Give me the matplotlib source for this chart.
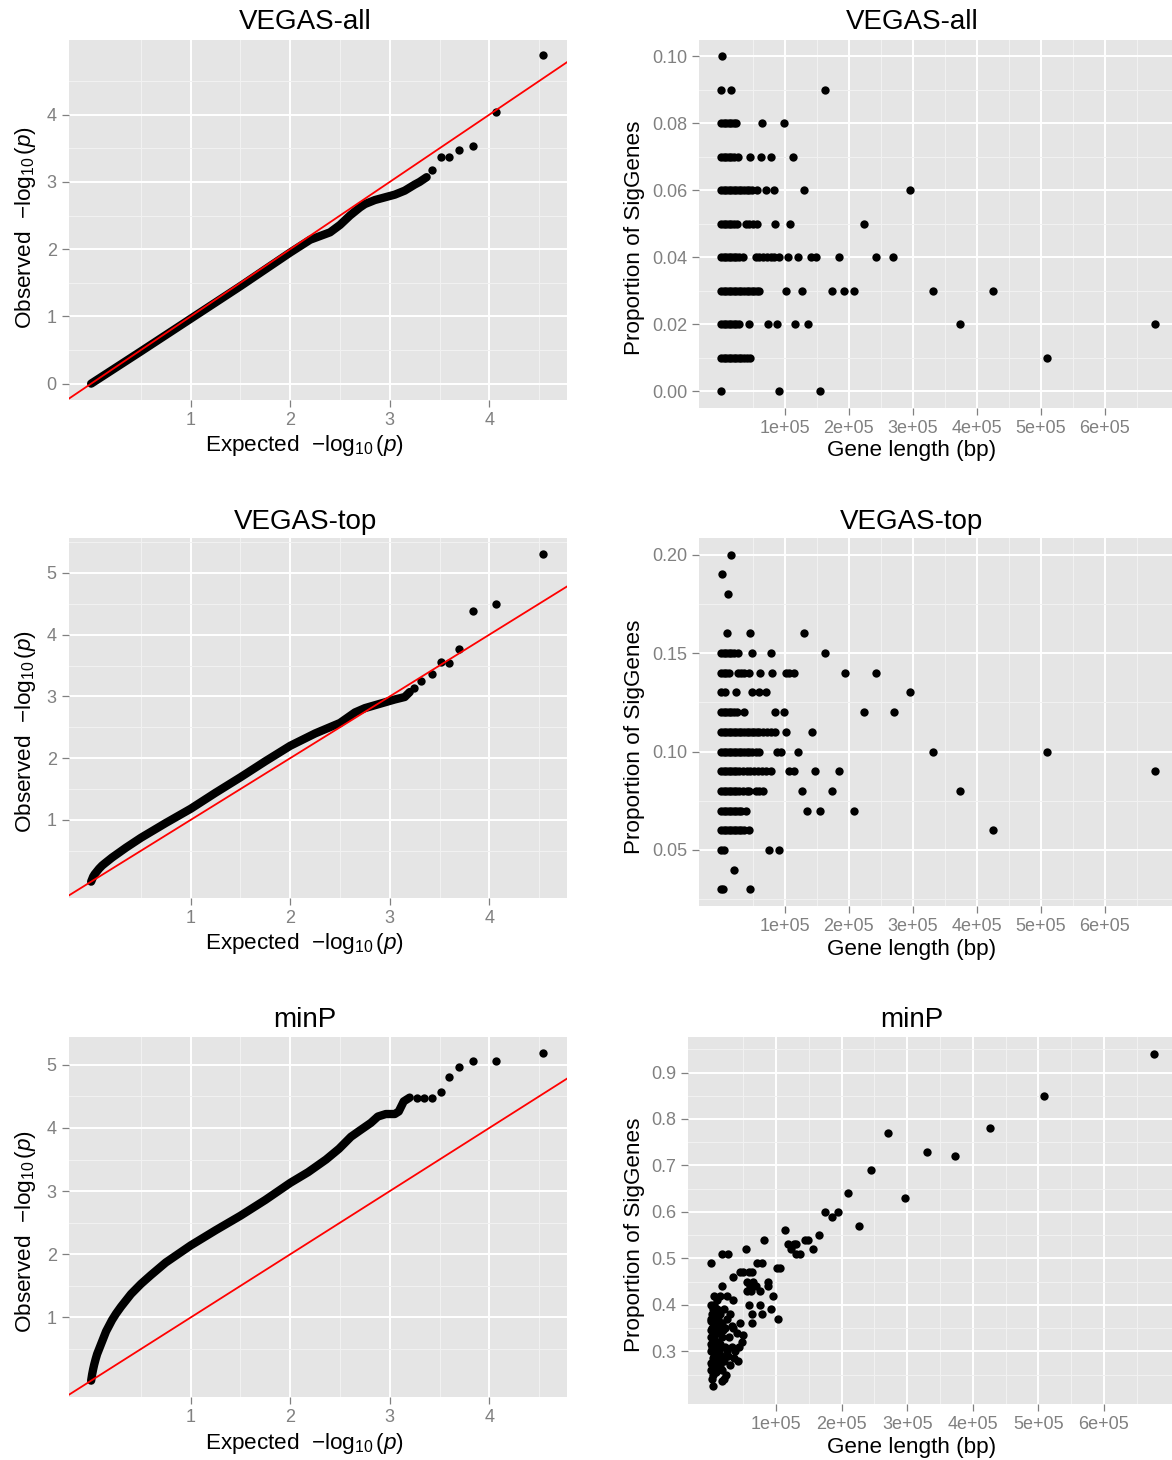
import matplotlib
matplotlib.use('Agg')
import matplotlib.pyplot as plt
import numpy as np
from matplotlib import ticker

plt.rcParams['font.family'] = ['Liberation Sans', 'DejaVu Sans']
plt.rcParams['mathtext.fontset'] = 'custom'
plt.rcParams['mathtext.rm'] = 'Liberation Sans'
plt.rcParams['mathtext.it'] = 'Liberation Sans:italic'
plt.rcParams['mathtext.bf'] = 'Liberation Sans:bold'

W, H = 1172, 1460
BG = '#E5E5E5'
MINOR = '#F2F2F2'
GREY = '#808080'

# ---- QQ data: dense part of each curve read as a path, separate tail points
all_curve_exp = [0.0, 0.25, 0.5, 1.0, 1.5, 2.0, 2.2, 2.4, 2.5, 2.6, 2.7, 2.75, 2.85, 2.95, 3.05, 3.15, 3.25, 3.3, 3.37]
all_curve_obs = [0.0, 0.24, 0.48, 0.965, 1.45, 1.95, 2.14, 2.25, 2.36, 2.5, 2.62, 2.67, 2.73, 2.77, 2.81, 2.87, 2.96, 3.0, 3.07]
all_tail_exp = [3.42, 3.51, 3.59, 3.70, 3.84, 4.07, 4.54]
all_tail_obs = [3.17, 3.37, 3.37, 3.47, 3.53, 4.04, 4.88]

top_curve_exp = [0.0, 0.01, 0.02, 0.035, 0.05, 0.08, 0.11, 0.14, 0.21, 0.28, 0.35, 0.5, 0.75, 1.0, 1.25, 1.5, 1.75, 2.0, 2.25, 2.5, 2.65, 2.75, 2.9, 3.05, 3.15, 3.2]
top_curve_obs = [0.0, 0.04, 0.08, 0.12, 0.15, 0.21, 0.26, 0.30, 0.39, 0.47, 0.55, 0.71, 0.95, 1.18, 1.44, 1.69, 1.95, 2.20, 2.40, 2.57, 2.74, 2.81, 2.88, 2.95, 2.99, 3.07]
top_tail_exp = [3.24, 3.31, 3.42, 3.51, 3.59, 3.70, 3.84, 4.07, 4.54]
top_tail_obs = [3.13, 3.25, 3.36, 3.56, 3.54, 3.76, 4.39, 4.49, 5.30]

minp_curve_exp = [0.0, 0.005, 0.01, 0.02, 0.03, 0.045, 0.06, 0.08, 0.1, 0.125, 0.15, 0.18, 0.21, 0.25, 0.3, 0.4, 0.5, 0.6, 0.75, 1.0, 1.25, 1.5, 1.75, 2.0, 2.18, 2.36, 2.49, 2.61, 2.70, 2.81, 2.88, 2.96, 3.05, 3.09, 3.14, 3.2]
minp_curve_obs = [0.0, 0.05, 0.10, 0.18, 0.25, 0.34, 0.42, 0.50, 0.58, 0.68, 0.78, 0.87, 0.96, 1.06, 1.17, 1.37, 1.53, 1.67, 1.87, 2.14, 2.38, 2.61, 2.86, 3.13, 3.30, 3.50, 3.67, 3.86, 3.96, 4.08, 4.18, 4.22, 4.22, 4.26, 4.42, 4.48]
minp_tail_exp = [3.27, 3.34, 3.42, 3.51, 3.59, 3.70, 3.84, 4.07, 4.54]
minp_tail_obs = [4.48, 4.48, 4.48, 4.57, 4.81, 4.96, 5.06, 5.06, 5.18]

# ---- gene length (x 1e5 bp) per proportion row
vall_rows = {
    0.10: [0.02],
    0.09: [0.0, 0.15, 1.63],
    0.08: [0.0, 0.04, 0.08, 0.12, 0.16, 0.20, 0.23, 0.64, 0.99],
    0.07: [0.0, 0.04, 0.08, 0.12, 0.16, 0.20, 0.27, 0.46, 0.62, 0.78, 1.13],
    0.06: [0.0, 0.04, 0.08, 0.12, 0.16, 0.20, 0.24, 0.28, 0.32, 0.36, 0.40, 0.44, 0.48, 0.57, 0.70, 0.83, 1.30, 2.96],
    0.05: [0.0, 0.04, 0.08, 0.12, 0.16, 0.20, 0.25, 0.39, 0.44, 0.50, 0.57, 0.85, 1.08, 2.24],
    0.04: [0.0, 0.04, 0.08, 0.12, 0.16, 0.20, 0.24, 0.28, 0.35, 0.54, 0.60, 0.66, 0.72, 0.78, 0.83, 0.91, 1.04, 1.20, 1.40, 1.49, 1.85, 2.43, 2.69],
    0.03: [0.0, 0.04, 0.08, 0.12, 0.16, 0.20, 0.24, 0.28, 0.32, 0.36, 0.40, 0.44, 0.48, 0.52, 0.56, 0.60, 1.01, 1.26, 1.74, 1.93, 2.08, 3.31, 4.26],
    0.02: [0.0, 0.04, 0.08, 0.12, 0.16, 0.20, 0.24, 0.28, 0.44, 0.74, 0.88, 1.16, 1.36, 3.73, 6.79],
    0.01: [0.0, 0.04, 0.08, 0.12, 0.16, 0.20, 0.24, 0.28, 0.32, 0.36, 0.41, 0.46, 5.10],
    0.00: [0.0, 0.91, 1.55],
}

vtop_rows = {
    0.20: [0.15],
    0.19: [0.01],
    0.18: [0.11],
    0.16: [0.10, 0.46, 1.30],
    0.15: [0.0, 0.04, 0.08, 0.12, 0.16, 0.20, 0.26, 0.48, 0.78, 1.63],
    0.14: [0.0, 0.04, 0.08, 0.13, 0.26, 0.31, 0.36, 0.44, 0.61, 0.80, 1.01, 1.07, 1.14, 1.94, 2.43],
    0.13: [0.0, 0.06, 0.23, 0.49, 0.60, 0.71, 2.96],
    0.12: [0.0, 0.04, 0.08, 0.12, 0.16, 0.20, 0.25, 0.36, 0.84, 0.99, 2.24, 2.70],
    0.11: [0.0, 0.04, 0.08, 0.12, 0.16, 0.20, 0.24, 0.28, 0.32, 0.36, 0.40, 0.44, 0.48, 0.52, 0.56, 0.60, 0.66, 0.72, 0.78, 0.84, 1.01, 1.43],
    0.10: [0.0, 0.04, 0.08, 0.12, 0.16, 0.20, 0.24, 0.28, 0.32, 0.36, 0.40, 0.44, 0.48, 0.54, 0.60, 0.88, 0.94, 1.20, 3.31, 5.10],
    0.09: [0.0, 0.04, 0.08, 0.12, 0.16, 0.20, 0.24, 0.28, 0.34, 0.40, 0.46, 0.52, 0.58, 0.64, 0.70, 0.78, 1.07, 1.14, 1.47, 1.85, 6.79],
    0.08: [0.0, 0.04, 0.08, 0.12, 0.16, 0.20, 0.24, 0.28, 0.34, 0.40, 0.44, 0.55, 0.60, 0.65, 1.26, 1.74, 3.73],
    0.07: [0.0, 0.04, 0.08, 0.12, 0.16, 0.20, 0.24, 0.28, 0.32, 0.39, 1.35, 1.55, 2.08],
    0.06: [0.0, 0.04, 0.08, 0.12, 0.16, 0.20, 0.24, 0.28, 0.32, 0.36, 0.44, 4.26],
    0.05: [0.0, 0.05, 0.75, 0.91],
    0.04: [0.21],
    0.03: [0.0, 0.03, 0.46],
}

minp_len = [6.77, 5.09, 4.26, 2.71, 3.30, 3.73, 2.44, 2.97, 2.10, 1.75, 1.86, 1.95, 2.26, 1.65,
            1.44, 1.49, 1.56, 1.14, 1.18, 1.27, 1.31, 1.22, 1.31, 1.37, 0.82, 0.54, 0.17, 0.27,
            0.0, 0.71, 0.78, 1.01, 1.06, 0.35, 0.45, 0.50, 0.58, 0.63, 0.87, 0.88, 0.55, 0.60,
            0.65, 0.70, 0.75, 0.55, 0.62, 0.17, 0.96, 0.15, 0.25, 0.35, 0.58, 0.76, 0.63, 0.78,
            0.92, 1.03, 0.63,
            0.00, 0.05, 0.10, 0.02, 0.08, 0.14, 0.20, 0.00, 0.05, 0.11, 0.17, 0.25, 0.30, 0.02,
            0.08, 0.14, 0.22, 0.35, 0.45, 0.00, 0.05, 0.10, 0.18, 0.28, 0.40, 0.02, 0.07, 0.13,
            0.22, 0.33, 0.48, 0.00, 0.05, 0.10, 0.16, 0.27, 0.38, 0.02, 0.08, 0.14, 0.20, 0.30,
            0.42, 0.00, 0.04, 0.10, 0.18, 0.24, 0.02, 0.03, 0.18, 0.20, 0.00, 0.03, 0.12, 0.25,
            0.32, 0.44, 0.36, 0.50, 0.10, 0.06, 0.04, 0.12, 0.07, 0.01, 0.06, 0.09, 0.01, 0.04,
            0.15, 0.01, 0.08, 0.12, 0.03, 0.19]
minp_prop = [0.94, 0.85, 0.78, 0.77, 0.73, 0.72, 0.69, 0.63, 0.64, 0.60, 0.59, 0.60, 0.57, 0.55,
             0.54, 0.54, 0.52, 0.56, 0.53, 0.53, 0.53, 0.52, 0.51, 0.51, 0.54, 0.52, 0.51, 0.51,
             0.49, 0.49, 0.49, 0.48, 0.48, 0.46, 0.47, 0.47, 0.47, 0.47, 0.45, 0.44, 0.45, 0.44,
             0.45, 0.44, 0.43, 0.43, 0.43, 0.44, 0.42, 0.42, 0.42, 0.41, 0.40, 0.40, 0.38, 0.38,
             0.39, 0.37, 0.36,
             0.40, 0.40, 0.39, 0.38, 0.38, 0.38, 0.39, 0.37, 0.36, 0.37, 0.36, 0.37, 0.38, 0.35,
             0.35, 0.34, 0.35, 0.35, 0.36, 0.33, 0.33, 0.32, 0.33, 0.33, 0.34, 0.31, 0.31, 0.30,
             0.31, 0.31, 0.32, 0.30, 0.29, 0.28, 0.29, 0.29, 0.30, 0.27, 0.27, 0.27, 0.28, 0.27,
             0.28, 0.26, 0.25, 0.26, 0.26, 0.25, 0.24, 0.225, 0.235, 0.24, 0.345, 0.285, 0.355, 0.30,
             0.355, 0.31, 0.285, 0.335, 0.41, 0.42, 0.32, 0.30, 0.265, 0.315, 0.305, 0.345, 0.275, 0.33,
             0.315, 0.365, 0.255, 0.295, 0.39, 0.345]


def rows_to_xy(rows):
    xs, ys = [], []
    for prop, lens in rows.items():
        xs += lens
        ys += [prop] * len(lens)
    return np.array(xs) * 1e5, np.array(ys)


def rect(left, top, right, bottom):
    return [left / W, 1 - bottom / H, (right - left) / W, (bottom - top) / H]


def style(ax, xlim, ylim, xmaj, xlab, xmin, ymaj, ylab, ymin):
    ax.set_facecolor(BG)
    for s in ax.spines.values():
        s.set_visible(False)
    ax.set_xlim(*xlim)
    ax.set_ylim(*ylim)
    ax.set_xticks(xmaj)
    ax.set_xticklabels(xlab)
    ax.set_yticks(ymaj)
    ax.set_yticklabels(ylab)
    ax.xaxis.set_minor_locator(ticker.FixedLocator(xmin))
    ax.yaxis.set_minor_locator(ticker.FixedLocator(ymin))
    ax.grid(which='major', color='white', lw=1.4)
    ax.grid(which='minor', color=MINOR, lw=0.7)
    ax.set_axisbelow(True)
    ax.tick_params(which='major', length=5, width=0.9, color=GREY, labelcolor=GREY,
                   labelsize=13, pad=3.5)
    ax.tick_params(which='minor', length=0)


def qq_panel(rc, cexp, cobs, texp, tobs, ylim, ymaj, ymin):
    ax = fig.add_axes(rc)
    ax.plot(cexp, cobs, color='black', lw=6.0, solid_capstyle='round',
            solid_joinstyle='round', zorder=2)
    ax.scatter(texp, tobs, s=36, color='black', linewidths=0, zorder=2)
    ax.axline((0, 0), slope=1, color='red', lw=1.3, zorder=3)
    style(ax, (-0.2275, 4.78), ylim, [1, 2, 3, 4], ['1', '2', '3', '4'],
          [0.5, 1.5, 2.5, 3.5, 4.5], ymaj, [str(v) for v in ymaj], ymin)
    return ax


def len_panel(rc, xs, ys, ylim, ymaj, ylab, ymin):
    ax = fig.add_axes(rc)
    ax.scatter(xs, ys, s=36, color='black', linewidths=0, zorder=2)
    xt = [1e5, 2e5, 3e5, 4e5, 5e5, 6e5]
    style(ax, (-0.344e5, 7.13e5), ylim, xt, ['1e+05', '2e+05', '3e+05', '4e+05', '5e+05', '6e+05'],
          [0.5e5, 1.5e5, 2.5e5, 3.5e5, 4.5e5, 5.5e5, 6.5e5], ymaj, ylab, ymin)
    return ax


fig = plt.figure(figsize=(W / 100, H / 100), dpi=100)

qq_lab = r'Expected  $-\log_{10}(p)$'
qq_ylab = r'Observed  $-\log_{10}(p)$'

qq_panel(rect(68.5, 40, 567, 400), all_curve_exp, all_curve_obs, all_tail_exp, all_tail_obs,
         (-0.2435, 5.11), [0, 1, 2, 3, 4], [0.5, 1.5, 2.5, 3.5, 4.5])
qq_panel(rect(68.5, 538, 567, 898), top_curve_exp, top_curve_obs, top_tail_exp, top_tail_obs,
         (-0.265, 5.565), [1, 2, 3, 4, 5], [0.5, 1.5, 2.5, 3.5, 4.5, 5.5])
qq_panel(rect(68.5, 1037, 567, 1397), minp_curve_exp, minp_curve_obs, minp_tail_exp, minp_tail_obs,
         (-0.259, 5.439), [1, 2, 3, 4, 5], [0.5, 1.5, 2.5, 3.5, 4.5])

x1, y1 = rows_to_xy(vall_rows)
len_panel(rect(699, 39.5, 1177, 408), x1, y1, (-0.005, 0.105),
          [0.0, 0.02, 0.04, 0.06, 0.08, 0.10], ['0.00', '0.02', '0.04', '0.06', '0.08', '0.10'],
          [0.01, 0.03, 0.05, 0.07, 0.09])
x2, y2 = rows_to_xy(vtop_rows)
len_panel(rect(699, 538, 1177, 906), x2, y2, (0.0215, 0.2085),
          [0.05, 0.10, 0.15, 0.20], ['0.05', '0.10', '0.15', '0.20'],
          [0.025, 0.075, 0.125, 0.175])
len_panel(rect(688, 1037, 1178, 1404), np.array(minp_len) * 1e5, minp_prop, (0.1865, 0.9765),
          [0.3, 0.4, 0.5, 0.6, 0.7, 0.8, 0.9], ['0.3', '0.4', '0.5', '0.6', '0.7', '0.8', '0.9'],
          [0.25, 0.35, 0.45, 0.55, 0.65, 0.75, 0.85, 0.95])

titles = ['VEGAS-all', 'VEGAS-top', 'minP']
title_y = [22, 522, 1020]
xlab_left_y = [446, 944, 1443]
xlab_right_y = [451, 949, 1448]
ylab_left_y = [228, 732, 1232]
ylab_right_y = [238, 737, 1235]

for i, t in enumerate(titles):
    fig.text(305 / W, 1 - title_y[i] / H, t, ha='center', va='center', fontsize=20)
    fig.text(912 / W, 1 - title_y[i] / H, t, ha='center', va='center', fontsize=20)
    fig.text(305 / W, 1 - xlab_left_y[i] / H, qq_lab, ha='center', va='center', fontsize=16.2)
    fig.text(912 / W, 1 - xlab_right_y[i] / H, 'Gene length (bp)', ha='center', va='center', fontsize=16.2)
    fig.text(25 / W, 1 - ylab_left_y[i] / H, qq_ylab, ha='center', va='center', fontsize=16.2, rotation=90)
    fig.text(634 / W, 1 - ylab_right_y[i] / H, 'Proportion of SigGenes', ha='center', va='center',
             fontsize=16.2, rotation=90)

fig.savefig('out.png', dpi=100, facecolor='white')
